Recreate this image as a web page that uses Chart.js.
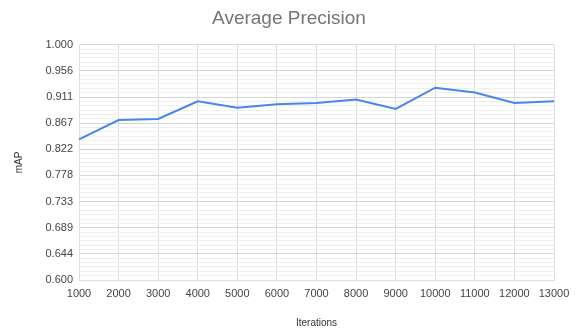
<!DOCTYPE html>
<html>
<head>
<meta charset="utf-8">
<script src="https://cdn.jsdelivr.net/npm/chart.js@4"></script>
<style>
  html, body { margin: 0; padding: 0; background: #fff; }
  #wrap { width: 578px; height: 329px; }
</style>
</head>
<body>
<div id="wrap"><canvas id="apChart"></canvas></div>
<script>
// categories on the x axis
var iterations = ['1000', '2000', '3000', '4000', '5000', '6000', '7000', '8000', '9000', '10000', '11000', '12000', '13000'];
// mAP values
var mapValues = [0.839, 0.872, 0.874, 0.904, 0.893, 0.899, 0.901, 0.907, 0.891, 0.927, 0.919, 0.901, 0.904];
// y axis tick labels
var yTickLabels = ['0.600', '0.644', '0.689', '0.733', '0.778', '0.822', '0.867', '0.911', '0.956', '1.000'];

var yMin = 0.6, yMax = 1.0;
var minorPerMajor = 6; // faint lines between labelled ticks
var majorCount = yTickLabels.length - 1;

var ctx = document.getElementById('apChart').getContext('2d');
Chart.defaults.font.family = '"Liberation Sans", Arial, sans-serif';

var apChart = new Chart(ctx, {
    type: 'line',
    data: {
        labels: iterations,
        datasets: [{
            label: 'mAP',
            data: mapValues,
            borderColor: '#4a86e8',
            borderWidth: 2,
            pointRadius: 0,
            tension: 0,
            fill: false
        }]
    },
    options: {
        responsive: true,
        maintainAspectRatio: false,
        animation: false,
        layout: { padding: 0 },
        plugins: {
            legend: { display: false },
            tooltip: { enabled: false },
            title: {
                display: true,
                text: 'Average Precision',
                color: '#757575',
                font: { size: 19, weight: 'normal' },
                padding: { top: 7, bottom: 15 }
            }
        },
        scales: {
            x: {
                offset: false,
                grid: { color: '#dedede', lineWidth: 1, drawTicks: false },
                border: { color: '#dedede' },
                ticks: { color: '#444', font: { size: 11 }, maxRotation: 0, autoSkip: false, padding: 7 },
                title: { display: true, text: 'Iterations', color: '#333', font: { size: 10 }, padding: { top: 14, bottom: 0 } },
                afterFit: function(scale) { scale.height = 49; }
            },
            y: {
                min: yMin,
                max: yMax,
                afterBuildTicks: function(scale) {
                    var ticks = [];
                    var n = majorCount * minorPerMajor;
                    for (var i = 0; i <= n; i++) {
                        ticks.push({ value: yMin + (yMax - yMin) * i / n });
                    }
                    scale.ticks = ticks;
                },
                grid: {
                    drawTicks: false,
                    color: function(c) {
                        return c.index % minorPerMajor === 0 ? '#d6d6d6' : '#efefef';
                    }
                },
                border: { color: '#dedede' },
                ticks: {
                    color: '#444',
                    font: { size: 11 },
                    padding: 6,
                    autoSkip: false,
                    callback: function(value, index) {
                        return index % minorPerMajor === 0 ? yTickLabels[index / minorPerMajor] : '';
                    }
                },
                title: { display: true, text: 'mAP', color: '#333', font: { size: 10 }, padding: { top: 13, bottom: 0 } },
                afterFit: function(scale) { scale.width = 79; }
            },
            // empty right-hand strip so the plot ends where the reference does
            spacer: {
                type: 'linear',
                position: 'right',
                grid: { display: false },
                border: { display: false },
                ticks: { display: false },
                afterFit: function(scale) { scale.width = 24; }
            }
        }
    }
});
</script>
</body>
</html>
